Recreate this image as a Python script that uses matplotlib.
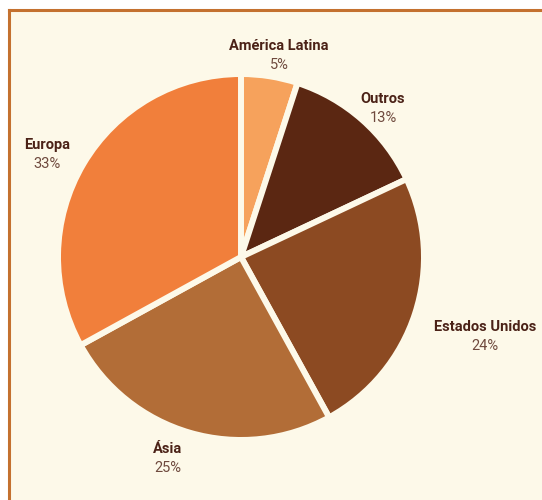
import numpy as np
import matplotlib
matplotlib.use("Agg")
import matplotlib.pyplot as plt

regioes = ["América Latina", "Outros", "Estados Unidos", "Ásia", "Europa"]
percentuais = [5, 13, 24, 25, 33]
cores = ["#f6a25c", "#5b2712", "#8c4a22", "#b26d37", "#f17f3b"]

creme = "#fdf9e9"
W, H = 542, 500

fig = plt.figure(figsize=(W / 100, H / 100), dpi=100, facecolor="white")
ax = fig.add_axes([0, 0, 1, 1])

cx, cy, r = 241, H - 257, 183
wedges, _ = ax.pie(percentuais, colors=cores, startangle=90, counterclock=False,
                   center=(cx, cy), radius=r,
                   wedgeprops=dict(edgecolor=creme, linewidth=4.3))
ax.set_xlim(0, W)
ax.set_ylim(0, H)
ax.set_aspect("equal")
ax.axis("off")

# fundo creme com moldura so em cima e a esquerda
ax.add_patch(plt.Rectangle((9, -5), W, H - 5, facecolor=creme, edgecolor="none", zorder=-5))
ax.plot([9, W + 5], [H - 10, H - 10], color="#c4712f", lw=2.2, zorder=-4, clip_on=False)
ax.plot([9, 9], [-5, H - 10], color="#c4712f", lw=2.2, zorder=-4, clip_on=False)

# posicao dos rotulos: fator do raio e ajuste do angulo
dist = [1.13, 1.13, 1.40, 1.16, 1.205]
ajuste = [-1.6, -2.0, 0.3, -3.9, 2.2]
for w, nome, p, d, a in zip(wedges, regioes, percentuais, dist, ajuste):
    ang = np.deg2rad((w.theta1 + w.theta2) / 2 + a)
    x = cx + d * r * np.cos(ang)
    y = cy + d * r * np.sin(ang) - 2
    ax.text(x, y + 9.5, nome, ha="center", va="center", fontsize=10.5,
            fontweight="bold", color="#4b2217", family="Roboto")
    ax.text(x, y - 9.5, f"{p}%", ha="center", va="center", fontsize=10.5,
            color="#6f4a3e", family="Roboto")

fig.savefig("out.png", dpi=100, facecolor="white")
